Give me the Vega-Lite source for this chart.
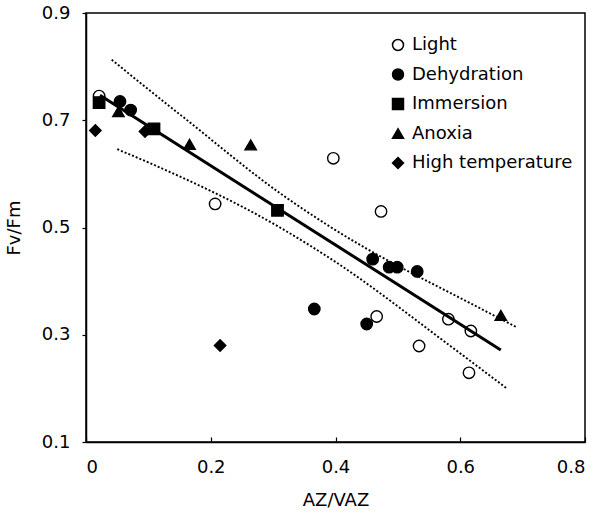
{
  "$schema": "https://vega.github.io/schema/vega-lite/v6.json",
  "width": 499,
  "height": 429,
  "autosize": {"type": "none"},
  "padding": {"left": 86, "top": 13, "right": 15, "bottom": 76},
  "background": "white",
  "config": {
    "font": "DejaVu Sans",
    "view": {"stroke": "black", "strokeWidth": 1.5},
    "axis": {
      "grid": false,
      "domainColor": "black",
      "domainWidth": 1.5,
      "tickColor": "black",
      "tickWidth": 1.2,
      "labelFont": "DejaVu Sans",
      "labelFontSize": 18,
      "labelColor": "black",
      "titleFont": "DejaVu Sans",
      "titleFontSize": 18,
      "titleFontWeight": "normal",
      "titleColor": "black"
    },
    "legend": {
      "labelFont": "DejaVu Sans",
      "labelFontSize": 18,
      "labelColor": "black",
      "labelLimit": 0
    }
  },
  "datasets": {
    "pts": [
      {"x": 0.021, "y": 0.745, "group": "Light"},
      {"x": 0.207, "y": 0.544, "group": "Light"},
      {"x": 0.3965, "y": 0.629, "group": "Light"},
      {"x": 0.473, "y": 0.53, "group": "Light"},
      {"x": 0.466, "y": 0.334, "group": "Light"},
      {"x": 0.534, "y": 0.279, "group": "Light"},
      {"x": 0.581, "y": 0.329, "group": "Light"},
      {"x": 0.617, "y": 0.307, "group": "Light"},
      {"x": 0.614, "y": 0.229, "group": "Light"},
      {"x": 0.0545, "y": 0.735, "group": "Dehydration"},
      {"x": 0.0716, "y": 0.719, "group": "Dehydration"},
      {"x": 0.366, "y": 0.348, "group": "Dehydration"},
      {"x": 0.45, "y": 0.32, "group": "Dehydration"},
      {"x": 0.4596, "y": 0.441, "group": "Dehydration"},
      {"x": 0.486, "y": 0.426, "group": "Dehydration"},
      {"x": 0.499, "y": 0.426, "group": "Dehydration"},
      {"x": 0.531, "y": 0.418, "group": "Dehydration"},
      {"x": 0.021, "y": 0.733, "group": "Immersion"},
      {"x": 0.109, "y": 0.684, "group": "Immersion"},
      {"x": 0.307, "y": 0.532, "group": "Immersion"},
      {"x": 0.052, "y": 0.716, "group": "Anoxia"},
      {"x": 0.166, "y": 0.655, "group": "Anoxia"},
      {"x": 0.264, "y": 0.654, "group": "Anoxia"},
      {"x": 0.665, "y": 0.336, "group": "Anoxia"},
      {"x": 0.015, "y": 0.681, "group": "High temperature"},
      {"x": 0.0946, "y": 0.679, "group": "High temperature"},
      {"x": 0.215, "y": 0.28, "group": "High temperature"}
    ],
    "fit": [
      {"x": 0.0224, "y": 0.7465},
      {"x": 0.665, "y": 0.2716}
    ],
    "band": [
      {"x": 0.0412, "y": 0.8127, "side": "upper"},
      {"x": 0.1614, "y": 0.7007, "side": "upper"},
      {"x": 0.311, "y": 0.564, "side": "upper"},
      {"x": 0.391, "y": 0.5017, "side": "upper"},
      {"x": 0.6317, "y": 0.3494, "side": "upper"},
      {"x": 0.6905, "y": 0.314, "side": "upper"},
      {"x": 0.0502, "y": 0.646, "side": "lower"},
      {"x": 0.1026, "y": 0.62, "side": "lower"},
      {"x": 0.311, "y": 0.5, "side": "lower"},
      {"x": 0.391, "y": 0.4427, "side": "lower"},
      {"x": 0.589, "y": 0.2748, "side": "lower"},
      {"x": 0.6745, "y": 0.2, "side": "lower"}
    ]
  },
  "layer": [
    {
      "data": {"name": "band"},
      "mark": {"type": "line", "color": "black", "strokeWidth": 1.9, "strokeDash": [2, 2], "interpolate": "monotone"},
      "encoding": {
        "x": {"field": "x", "type": "quantitative", "scale": {"domain": [0, 0.8], "nice": false},
          "axis": {"values": [0, 0.2, 0.4, 0.6, 0.8], "format": "~g", "tickSize": -5, "labelPadding": 21, "title": "AZ/VAZ", "titlePadding": 15}},
        "y": {"field": "y", "type": "quantitative", "scale": {"domain": [0.1, 0.9], "nice": false, "zero": false},
          "axis": {"values": [0.1, 0.3, 0.5, 0.7, 0.9], "format": ".1f", "tickSize": 4, "labelPadding": 12, "title": "Fv/Fm", "titlePadding": 18}},
        "detail": {"field": "side", "type": "nominal"}
      }
    },
    {
      "data": {"name": "fit"},
      "mark": {"type": "line", "color": "black", "strokeWidth": 3},
      "encoding": {
        "x": {"field": "x", "type": "quantitative"},
        "y": {"field": "y", "type": "quantitative"}
      }
    },
    {
      "data": {"name": "pts"},
      "mark": {"type": "point", "filled": true, "size": 130, "stroke": "black", "strokeWidth": 1.4, "opacity": 1},
      "encoding": {
        "x": {"field": "x", "type": "quantitative"},
        "y": {"field": "y", "type": "quantitative"},
        "shape": {"field": "group", "type": "nominal",
          "scale": {"domain": ["Light", "Dehydration", "Immersion", "Anoxia", "High temperature"], "range": ["circle", "circle", "square", "triangle-up", "diamond"]},
          "legend": {"orient": "none", "legendX": 303, "legendY": 23, "title": null, "padding": 0, "rowPadding": 11.5, "labelOffset": 5, "symbolSize": 120,
            "encode": {"symbols": {"update": {"stroke": {"value": "black"}, "strokeWidth": {"value": 1.4}}}}}},
        "fill": {"field": "group", "type": "nominal",
          "scale": {"domain": ["Light", "Dehydration", "Immersion", "Anoxia", "High temperature"], "range": ["transparent", "black", "black", "black", "black"]},
          "legend": {"orient": "none", "legendX": 303, "legendY": 23, "title": null, "padding": 0, "rowPadding": 11.5, "labelOffset": 5, "symbolSize": 120,
            "encode": {"symbols": {"update": {"stroke": {"value": "black"}, "strokeWidth": {"value": 1.4}}}}}}
      }
    }
  ]
}
